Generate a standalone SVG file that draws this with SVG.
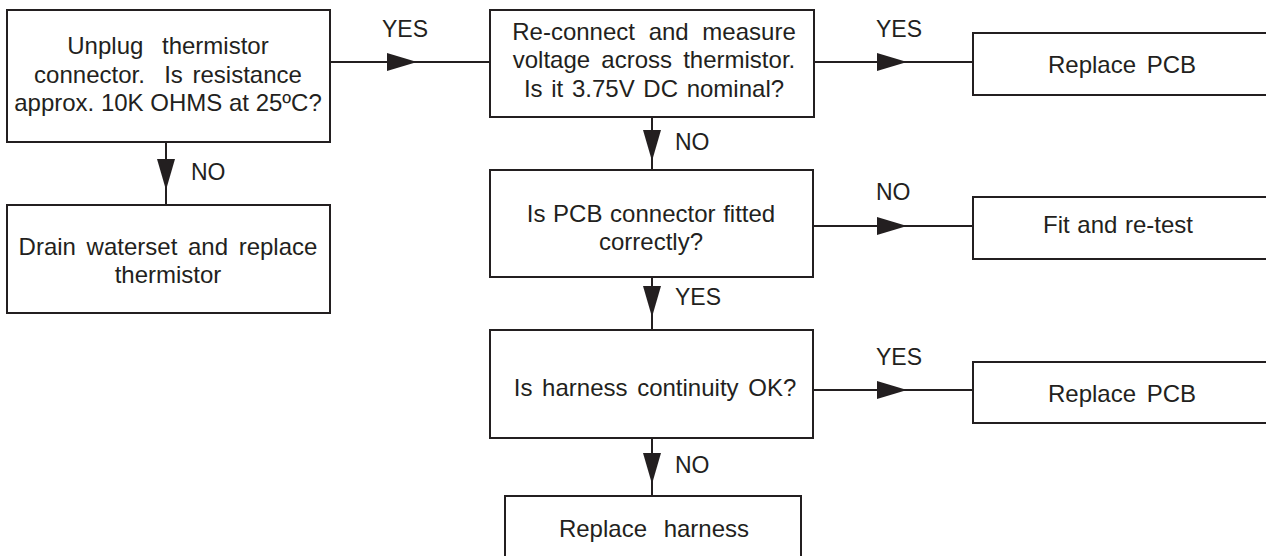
<svg xmlns="http://www.w3.org/2000/svg" xmlns:xlink="http://www.w3.org/1999/xlink" width="1266" height="556" viewBox="0 0 1266 556">
<style>
  .box { fill: #ffffff; stroke: #231f20; stroke-width: 2; }
  .line { fill: none; stroke: #231f20; stroke-width: 2; }
  .head { fill: #231f20; stroke: none; }
  .t { font-family: "Liberation Sans", Arial, sans-serif; font-size: 24px; fill: #231f20; text-anchor: middle; }
  .lbl { font-family: "Liberation Sans", Arial, sans-serif; font-size: 23px; fill: #231f20; }
</style>
<defs>
  <polygon id="ah" points="0,-9 30,0 0,9" class="head"/>
  <polygon id="av" points="-9,0 9,0 0,31" class="head"/>
</defs>
<rect width="1266" height="556" fill="#ffffff"/>

<g id="connectors">
  <line class="line" x1="330" y1="62" x2="490" y2="62"/>
  <use xlink:href="#ah" x="387" y="62"/>
  <line class="line" x1="814" y1="62" x2="973" y2="62"/>
  <use xlink:href="#ah" x="877" y="62"/>
  <line class="line" x1="166" y1="142" x2="166" y2="205"/>
  <use xlink:href="#av" x="166" y="159"/>
  <line class="line" x1="652" y1="117" x2="652" y2="170"/>
  <use xlink:href="#av" x="652" y="130"/>
  <line class="line" x1="813" y1="226" x2="973" y2="226"/>
  <use xlink:href="#ah" x="877" y="226"/>
  <line class="line" x1="652" y1="277" x2="652" y2="330"/>
  <use xlink:href="#av" x="652" y="286"/>
  <line class="line" x1="813" y1="390" x2="973" y2="390"/>
  <use xlink:href="#ah" x="877" y="390"/>
  <line class="line" x1="652" y1="438" x2="652" y2="496"/>
  <use xlink:href="#av" x="652" y="453"/>
  <text class="lbl" x="382" y="37">YES</text>
  <text class="lbl" x="876" y="37">YES</text>
  <text class="lbl" x="191" y="180">NO</text>
  <text class="lbl" x="675" y="150">NO</text>
  <text class="lbl" x="876" y="200">NO</text>
  <text class="lbl" x="675" y="305">YES</text>
  <text class="lbl" x="876" y="365">YES</text>
  <text class="lbl" x="675" y="473">NO</text>
</g>

<g id="n1">
  <rect class="box" x="7" y="10" width="323" height="132"/>
  <text class="t" x="168" y="54" word-spacing="12">Unplug thermistor</text>
  <text class="t" x="168" y="83" word-spacing="3">connector.&#160; Is resistance</text>
  <text class="t" x="168" y="111">approx. 10K OHMS at 25ºC?</text>
</g>

<g id="n2">
  <rect class="box" x="7" y="205" width="323" height="108"/>
  <text class="t" x="168" y="255" word-spacing="4">Drain waterset and replace</text>
  <text class="t" x="168" y="283">thermistor</text>
</g>

<g id="n3">
  <rect class="box" x="490" y="10" width="324" height="107"/>
  <text class="t" x="654" y="40" word-spacing="7">Re-connect and measure</text>
  <text class="t" x="654" y="68" word-spacing="4.5">voltage across thermistor.</text>
  <text class="t" x="654" y="97" word-spacing="2">Is it 3.75V DC nominal?</text>
</g>

<g id="n4">
  <rect class="box" x="490" y="170" width="323" height="107"/>
  <text class="t" x="651" y="222" word-spacing="1">Is PCB connector fitted</text>
  <text class="t" x="651" y="250">correctly?</text>
</g>

<g id="n5">
  <rect class="box" x="490" y="330" width="323" height="108"/>
  <text class="t" x="655" y="396" word-spacing="3">Is harness continuity OK?</text>
</g>

<g id="n6">
  <rect class="box" x="505" y="496" width="296" height="80"/>
  <text class="t" x="654" y="537" word-spacing="10">Replace harness</text>
</g>

<g id="n7">
  <rect class="box" x="973" y="33" width="310" height="62"/>
  <text class="t" x="1122" y="73" word-spacing="4">Replace PCB</text>
</g>

<g id="n8">
  <rect class="box" x="973" y="197" width="310" height="62"/>
  <text class="t" x="1118" y="233" word-spacing="1">Fit and re-test</text>
</g>

<g id="n9">
  <rect class="box" x="973" y="362" width="310" height="61"/>
  <text class="t" x="1122" y="402" word-spacing="4">Replace PCB</text>
</g>
</svg>
